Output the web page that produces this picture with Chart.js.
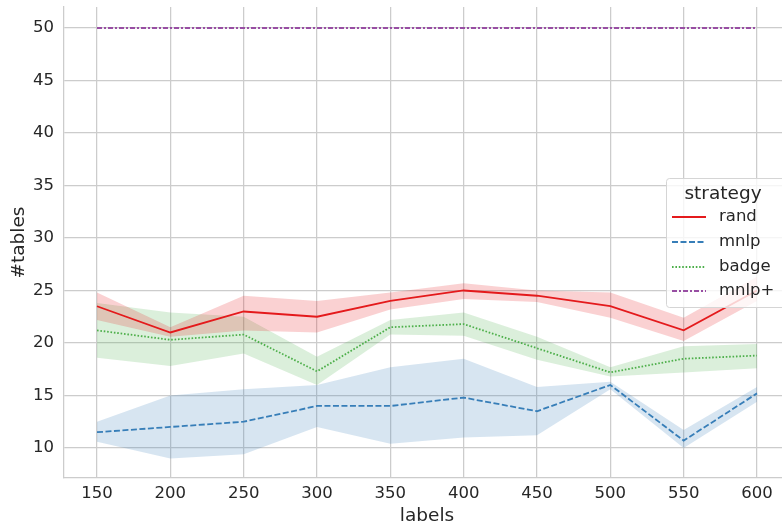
<!DOCTYPE html>
<html>
<head>
<meta charset="utf-8">
<script src="https://cdn.jsdelivr.net/npm/chart.js@4.4.0/dist/chart.umd.min.js"></script>
<style>
  html, body { margin: 0; padding: 0; background: #fff; overflow: hidden; }
  #wrap { width: 790px; height: 527px; }
</style>
</head>
<body>
<div id="wrap"><canvas id="chart"></canvas></div>
<script>
const labelCounts = [150, 200, 250, 300, 350, 400, 450, 500, 550, 600];
const yTicks = [10, 15, 20, 25, 30, 35, 40, 45, 50];

const randMean = [23.5, 21.0, 23.0, 22.5, 24.0, 25.0, 24.5, 23.5, 21.2, 25.0];
const randHigh = [24.8, 21.5, 24.5, 24.0, 24.8, 25.7, 25.0, 24.8, 22.4, 26.3];
const randLow  = [22.2, 20.6, 21.2, 21.0, 23.2, 24.2, 23.9, 22.4, 20.2, 24.0];

const mnlpMean = [11.5, 12.0, 12.5, 14.0, 14.0, 14.8, 13.5, 16.0, 10.7, 15.2];
const mnlpHigh = [12.5, 15.0, 15.6, 16.0, 17.7, 18.5, 15.8, 16.3, 11.7, 15.8];
const mnlpLow  = [10.6,  9.0,  9.4, 12.0, 10.4, 11.0, 11.2, 15.6, 10.0, 14.4];

const badgeMean = [21.2, 20.3, 20.8, 17.3, 21.5, 21.8, 19.5, 17.2, 18.5, 18.8];
const badgeHigh = [23.8, 22.9, 22.5, 18.7, 22.2, 22.9, 20.6, 17.7, 19.7, 19.9];
const badgeLow  = [18.6, 17.8, 19.0, 16.0, 20.8, 20.7, 18.4, 16.8, 17.2, 17.6];

const mnlpPlusMean = [50, 50, 50, 50, 50, 50, 50, 50, 50, 50];

const seriesNames = ['rand', 'mnlp', 'badge', 'mnlp+'];
const seriesColors = ['#e41a1c', '#377eb8', '#4daf4a', '#984ea3'];
const seriesDashes = [[], [6, 2.5], [1.6, 1.8], [5, 2, 2, 2]];

const textColor = '#262626';
const gridColor = '#cccccc';
const fontFamily = '"DejaVu Sans", sans-serif';

function pts(values) {
    return labelCounts.map((x, i) => ({ x: x, y: values[i] }));
}

function rgba(hex, a) {
    const n = parseInt(hex.slice(1), 16);
    return 'rgba(' + (n >> 16) + ',' + ((n >> 8) & 255) + ',' + (n & 255) + ',' + a + ')';
}

function band(high, low, color) {
    return [{
        data: pts(high),
        borderWidth: 0,
        pointRadius: 0,
        backgroundColor: rgba(color, 0.2),
        fill: '+1',
        order: 2
    }, {
        data: pts(low),
        borderWidth: 0,
        pointRadius: 0,
        fill: false,
        order: 2
    }];
}

function line(values, idx) {
    return {
        label: seriesNames[idx],
        data: pts(values),
        borderColor: seriesColors[idx],
        borderWidth: 1.8,
        borderDash: seriesDashes[idx],
        pointRadius: 0,
        fill: false,
        tension: 0,
        order: 0
    };
}

const datasets = [
    ...band(randHigh, randLow, seriesColors[0]),
    ...band(mnlpHigh, mnlpLow, seriesColors[1]),
    ...band(badgeHigh, badgeLow, seriesColors[2]),
    line(randMean, 0),
    line(mnlpMean, 1),
    line(badgeMean, 2),
    line(mnlpPlusMean, 3)
];

// legend drawn inside the plot, like seaborn's
const legendBox = {
    id: 'legendBox',
    afterDraw(chart) {
        const ctx = chart.ctx;
        const x = 666, y = 178, w = 120, h = 129;
        ctx.save();
        ctx.fillStyle = 'rgba(255,255,255,0.8)';
        ctx.strokeStyle = '#d5d5d5';
        ctx.lineWidth = 1;
        ctx.beginPath();
        ctx.roundRect(x + 0.5, y + 0.5, w, h, 3);
        ctx.fill();
        ctx.stroke();

        ctx.fillStyle = textColor;
        ctx.textBaseline = 'middle';
        ctx.textAlign = 'center';
        ctx.font = '18.5px ' + fontFamily;
        ctx.fillText('strategy', 723, 194);

        ctx.textAlign = 'left';
        ctx.font = '16.5px ' + fontFamily;
        const rows = [217, 242, 267, 291];
        seriesNames.forEach((name, i) => {
            ctx.strokeStyle = seriesColors[i];
            ctx.lineWidth = 1.8;
            ctx.setLineDash(seriesDashes[i]);
            ctx.beginPath();
            ctx.moveTo(672, rows[i]);
            ctx.lineTo(706, rows[i]);
            ctx.stroke();
            ctx.setLineDash([]);
            ctx.fillText(name, 719, rows[i]);
        });
        ctx.restore();
    }
};

new Chart(document.getElementById('chart'), {
    type: 'line',
    data: { datasets: datasets },
    plugins: [legendBox],
    options: {
        responsive: true,
        maintainAspectRatio: false,
        animation: false,
        layout: { padding: { top: 7, right: 0, left: 0, bottom: 0 } },
        plugins: {
            legend: { display: false },
            tooltip: { enabled: false }
        },
        scales: {
            x: {
                type: 'linear',
                min: 127.5,
                max: 622.5,
                afterBuildTicks: axis => { axis.ticks = labelCounts.map(v => ({ value: v })); },
                afterFit: axis => {
                    axis.height = 49;
                    axis.paddingLeft = 0;
                    axis.paddingRight = 0;
                },
                grid: { color: gridColor, lineWidth: 1.25, drawTicks: false },
                border: { color: gridColor, width: 1.25 },
                ticks: {
                    color: textColor,
                    padding: 6,
                    maxRotation: 0,
                    font: { family: fontFamily, size: 16.5 }
                },
                title: {
                    display: true,
                    text: 'labels',
                    color: textColor,
                    padding: { top: 0, bottom: 0 },
                    font: { family: fontFamily, size: 18.5 }
                }
            },
            y: {
                min: 7.14,
                max: 52.0,
                afterBuildTicks: axis => { axis.ticks = yTicks.map(v => ({ value: v })); },
                afterFit: axis => {
                    axis.width = 64;
                    axis.paddingTop = 0;
                    axis.paddingBottom = 0;
                },
                grid: { color: gridColor, lineWidth: 1.25, drawTicks: false },
                border: { color: gridColor, width: 1.25 },
                ticks: {
                    color: textColor,
                    padding: 10,
                    font: { family: fontFamily, size: 16.5 }
                },
                title: {
                    display: true,
                    text: '#tables',
                    color: textColor,
                    padding: { top: 8, bottom: 0 },
                    font: { family: fontFamily, size: 18.5 }
                }
            }
        }
    }
});
</script>
</body>
</html>
